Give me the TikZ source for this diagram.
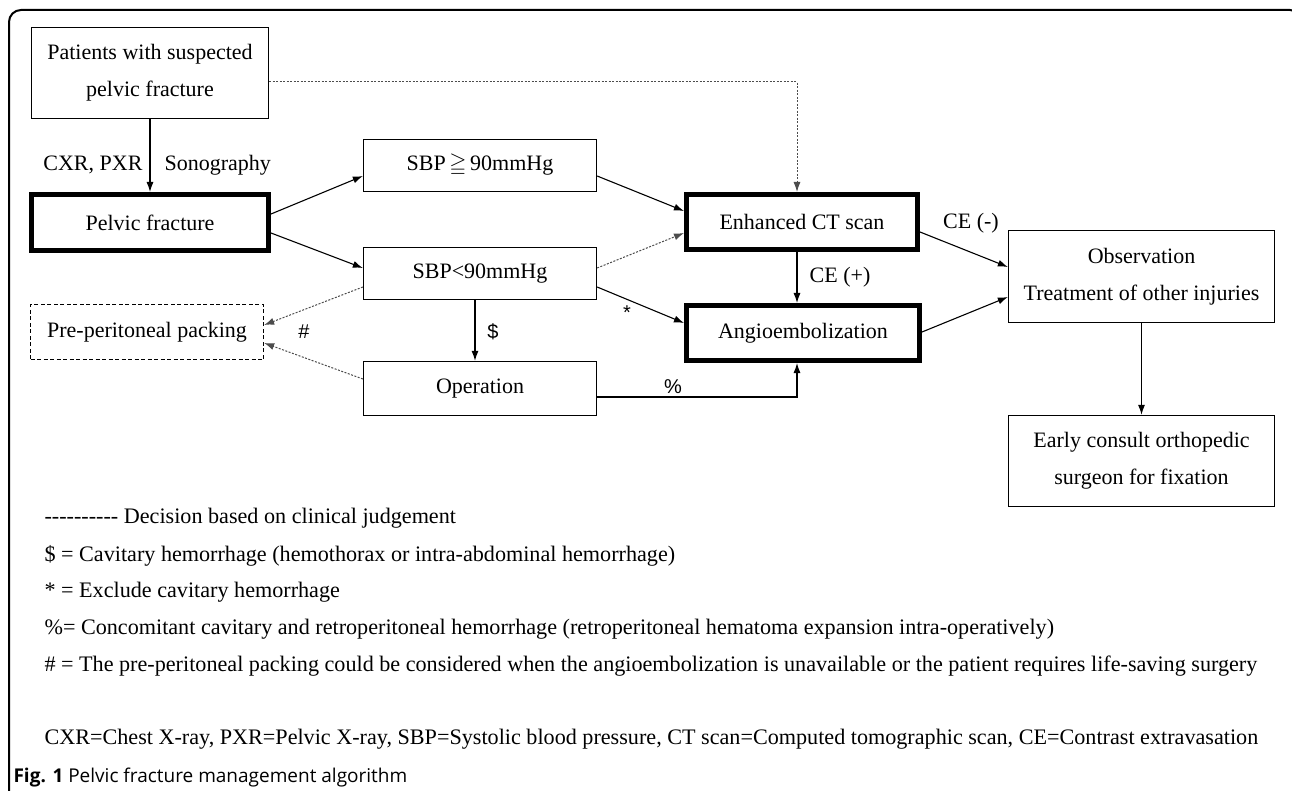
\documentclass[tikz,border=0pt]{standalone}
\usepackage{fontspec}
\usepackage{amssymb}
\setmainfont{Liberation Serif}
\newfontfamily\marksfont{Liberation Sans}
\newfontfamily\capfont{Open Sans}
\newcommand\hy{-\kern0pt}
\usetikzlibrary{arrows.meta}
\tikzset{%
 >={Latex[length=10pt,width=7pt]}
}
\tikzset{
 box/.style={draw, line width=1.3pt, align=center, inner sep=0pt},
 boldbox/.style={box, line width=5pt},
 choice/.style={dash pattern=on 2pt off 1.5pt, black!70, line width=1pt},
 sign/.style={font=\marksfont\fontsize{20}{20}\selectfont},
 note/.style={anchor=base west, inner sep=0pt, font=\fontsize{22.15}{37}\selectfont}
}

\begin{document}
\begin{tikzpicture}[x=1pt, y=-1pt, font=\fontsize{22}{37}\selectfont, line width=1.1pt]
 \useasboundingbox (0,0) rectangle (1292,791);
 \draw [line width=2pt, rounded corners=12pt] (9,800) -- (9,10) -- (1302,10) -- (1302,40);

 % boxes
 \node (pat) at (150,73) [box, minimum width=237pt, minimum height=91pt] {Patients with suspected\\pelvic fracture};
 \node (pelvic) at (150,222.5) [boldbox, minimum width=237pt, minimum height=56pt] {Pelvic fracture};
 \node (sbphi) at (480,165.5) [box, minimum width=233pt, minimum height=52pt] {SBP\,$\geqq$\,90mmHg};
 \node (sbplo) at (480,273.5) [box, minimum width=233pt, minimum height=52pt] {SBP<90mmHg};
 \node (oper) at (480,388.5) [box, minimum width=233pt, minimum height=54pt] {Operation};
 \node (pack) at (147,332) [box, dash pattern=on 4pt off 2.5pt, minimum width=233pt, minimum height=55pt] {Pre-peritoneal packing};
 \node (ct) at (802,222) [boldbox, minimum width=231pt, minimum height=55pt] {Enhanced CT scan};
 \node (angio) at (803,333) [boldbox, minimum width=233pt, minimum height=55pt] {Angioembolization};
 \node (obs) at (1141.5,276.5) [box, minimum width=266pt, minimum height=92pt] {Observation\\Treatment of other injuries};
 \node (early) at (1141.5,461) [box, minimum width=266pt, minimum height=91pt] {Early consult orthopedic\\surgeon for fixation};

 % connectors
 \draw [->] (pat) -- (pelvic);
 \draw [->] ([yshift=8.5pt]pelvic.east) -- ([yshift=-10.5pt]sbphi.west);
 \draw [->] ([yshift=-10.5pt]pelvic.east) -- ([yshift=5.5pt]sbplo.west);
 \draw [->, choice] ([yshift=-13.5pt]sbplo.west) -- ([yshift=7pt]pack.east);
 \draw [->, choice] ([yshift=9.5pt]oper.west) -- ([yshift=-11pt]pack.east);
 \draw [->] ([xshift=-5pt]sbplo.south) -- ([xshift=-5pt]oper.north);
 \draw [->, choice] ([yshift=-9pt]pat.east) -| ([xshift=-5pt]ct.north);
 \draw [->] ([yshift=-10.5pt]sbphi.east) -- ([yshift=11pt]ct.west);
 \draw [->, choice] ([yshift=5.5pt]sbplo.east) -- ([yshift=-11pt]ct.west);
 \draw [->] ([yshift=-13.5pt]sbplo.east) -- ([yshift=10pt]angio.west);
 \draw [->] ([yshift=-8.5pt]oper.east) -| ([xshift=-6pt]angio.south);
 \draw [->] ([xshift=-5pt]ct.south) -- ([xshift=-6pt]angio.north);
 \draw [->] ([yshift=-10pt]ct.east) -- ([yshift=9.5pt]obs.west);
 \draw [->] ([yshift=1pt]angio.east) -- ([yshift=-20.5pt]obs.west);
 \draw [->] (obs) -- (early);

 % labels
 \node (cxr) at (143,165) [anchor=east, inner sep=0pt] {CXR, PXR};
 \node (sono) at (164,165) [anchor=west, inner sep=0pt] {Sonography};
 \node (hash) at (304,332) [sign] {\#};
 \node (dollar) at (493,332) [sign] {\$};
 \node (star) at (627,313) [sign] {*};
 \node (pct) at (673,387) [sign] {\%};
 \node (cepos) at (840,277) {CE (+)};
 \node (ceneg) at (971,223) {CE (-)};

 % legend
 \node (key) at (44,523) [note] {\hy\hy\hy\hy\hy\hy\hy\hy\hy\hy\ Decision based on clinical judgement};
 \foreach \i/\y/\t in {1/561/{\$ = Cavitary hemorrhage (hemothorax or intra-abdominal hemorrhage)},
                       2/597/{* = Exclude cavitary hemorrhage},
                       3/634/{\%= Concomitant cavitary and retroperitoneal hemorrhage (retroperitoneal hematoma expansion intra-operatively)},
                       4/671/{\# = The pre-peritoneal packing could be considered when the angioembolization is unavailable or the patient requires life-saving surgery}} {
  \node (note\i) at (44,\y) [note] {\t};
 }
 \node (abbr) at (44,744) [note] {CXR=Chest X-ray, PXR=Pelvic X-ray, SBP=Systolic blood pressure, CT scan=Computed tomographic scan, CE=Contrast extravasation};
 \node (caption) at (13,782) [note, font=\capfont\fontsize{19}{19}\selectfont] {\textbf{Fig. 1} Pelvic fracture management algorithm};
\end{tikzpicture}
\end{document}
